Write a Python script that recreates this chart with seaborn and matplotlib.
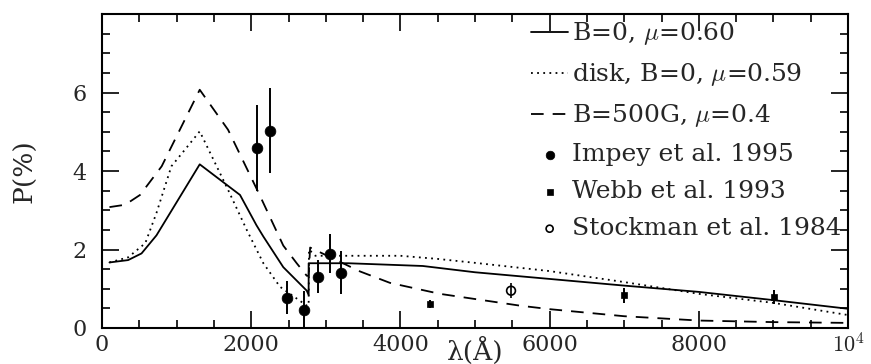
import numpy as np
import pandas as pd
import matplotlib
matplotlib.use('Agg')
import matplotlib.pyplot as plt
import seaborn as sns
from matplotlib.ticker import MultipleLocator, FuncFormatter

# model curves (lambda in Angstrom, P in %)
lam_b0 = [100, 350, 530, 730, 1310, 1850, 2070, 2163, 2430, 2745, 2770, 2770, 3300, 4300, 5000, 6000, 7000, 8000, 9000, 10000]
p_b0 = [1.67, 1.73, 1.90, 2.36, 4.17, 3.39, 2.62, 2.33, 1.55, 0.95, 0.84, 1.65, 1.65, 1.58, 1.42, 1.25, 1.08, 0.92, 0.71, 0.49]

lam_disk = [100, 350, 580, 730, 930, 1110, 1310, 1690, 1940, 2163, 2386, 2745, 2770, 2775, 2860, 4000, 4500, 5000, 6000, 7000, 8000, 9000, 10000]
p_disk = [1.67, 1.80, 2.16, 2.93, 4.12, 4.54, 5.01, 3.52, 2.50, 1.65, 1.05, 0.57, 0.57, 2.00, 1.84, 1.84, 1.76, 1.66, 1.45, 1.17, 0.87, 0.64, 0.33]

lam_b500 = [100, 310, 510, 800, 1310, 1690, 2100, 2430, 2610, 2745, 2770, 2790, 3460, 3860, 4530, 5600, 6000, 7000, 8000, 9000, 10000]
p_b500 = [3.08, 3.14, 3.39, 4.12, 6.07, 5.05, 3.44, 2.10, 1.65, 1.33, 1.33, 2.05, 1.44, 1.15, 0.87, 0.57, 0.48, 0.30, 0.19, 0.15, 0.13]

# observations
lam_impey = [2073, 2252, 2476, 2712, 2891, 3056, 3204]
p_impey = [4.58, 5.03, 0.77, 0.46, 1.31, 1.89, 1.41]
err_impey = [1.10, 1.08, 0.42, 0.48, 0.42, 0.50, 0.55]

lam_webb = [4400, 7000, 9010]
p_webb = [0.61, 0.83, 0.78]
err_webb = [0.10, 0.19, 0.18]

lam_stock = [5483]
p_stock = [0.95]
err_stock = [0.19]

labels = ['B=0, $\\mu$=0.60', 'disk, B=0, $\\mu$=0.59', 'B=500G, $\\mu$=0.4',
          'Impey et al. 1995', 'Webb et al. 1993', 'Stockman et al. 1984']

sns.set_style('ticks')
plt.rcParams['font.family'] = ['DejaVu Serif']
plt.rcParams['mathtext.fontset'] = 'cm'

fig = plt.figure(figsize=(8.71, 3.64), dpi=100)
ax = fig.add_axes([102 / 871, 1 - 328 / 364, 746 / 871, 314 / 364])

lw = 1.3
sns.lineplot(x=lam_b0, y=p_b0, ax=ax, color='k', lw=lw, estimator=None, sort=False, label=labels[0])
sns.lineplot(x=lam_disk, y=p_disk, ax=ax, color='k', lw=lw, estimator=None, sort=False,
             linestyle=(0, (1, 2.4)), label=labels[1])
sns.lineplot(x=lam_b500, y=p_b500, ax=ax, color='k', lw=lw, estimator=None, sort=False,
             linestyle=(0, (7, 5)), label=labels[2])

ax.errorbar(lam_impey, p_impey, yerr=err_impey, fmt='none', ecolor='k', elinewidth=1.4, capsize=0)
ax.errorbar(lam_webb, p_webb, yerr=err_webb, fmt='none', ecolor='k', elinewidth=1.4, capsize=0)
ax.errorbar(lam_stock, p_stock, yerr=err_stock, fmt='none', ecolor='k', elinewidth=1.2, capsize=0)

sns.scatterplot(x=lam_impey, y=p_impey, ax=ax, color='k', marker='o', s=60, edgecolor='k',
                linewidth=0.5, label=labels[3], zorder=5)
sns.scatterplot(x=lam_webb, y=p_webb, ax=ax, color='k', marker='s', s=22, edgecolor='k',
                linewidth=0.5, label=labels[4], zorder=5)
sns.scatterplot(x=lam_stock, y=p_stock, ax=ax, facecolor='none', marker='o', s=40, edgecolor='k',
                linewidth=1.2, label=labels[5], zorder=5)

ax.set_xlim(0, 10000)
ax.set_ylim(0, 8)
ax.xaxis.set_major_locator(MultipleLocator(2000))
ax.xaxis.set_minor_locator(MultipleLocator(500))
ax.yaxis.set_major_locator(MultipleLocator(2))
ax.yaxis.set_minor_locator(MultipleLocator(0.5))
ax.xaxis.set_major_formatter(FuncFormatter(lambda v, p: '$\\mathrm{10^4}$' if v >= 10000 else '%d' % v))
ax.yaxis.set_major_formatter(FuncFormatter(lambda v, p: '' if v >= 8 else '%d' % v))
ax.tick_params(which='both', direction='in', top=True, right=True, width=1.2, labelsize=16, color='k')
ax.tick_params(which='major', length=12)
ax.tick_params(which='minor', length=6)
ax.tick_params(axis='x', pad=4)
ax.tick_params(axis='y', pad=11)
for s in ax.spines.values():
    s.set_linewidth(1.5)
    s.set_color('k')

ax.set_xlabel('λ(Å)', fontsize=19)
ax.xaxis.set_label_coords(0.5, -0.028)
ax.set_ylabel('P(%)', fontsize=19)
ax.yaxis.set_label_coords(-0.087, 0.5)

h, l = ax.get_legend_handles_labels()
ax.legend(h, l, loc='upper right', frameon=False, fontsize=18, handlelength=1.5,
          handletextpad=0.15, labelspacing=0.56, borderaxespad=0.05, borderpad=0.2,
          markerscale=0.8)

fig.savefig('out.png', dpi=100)
